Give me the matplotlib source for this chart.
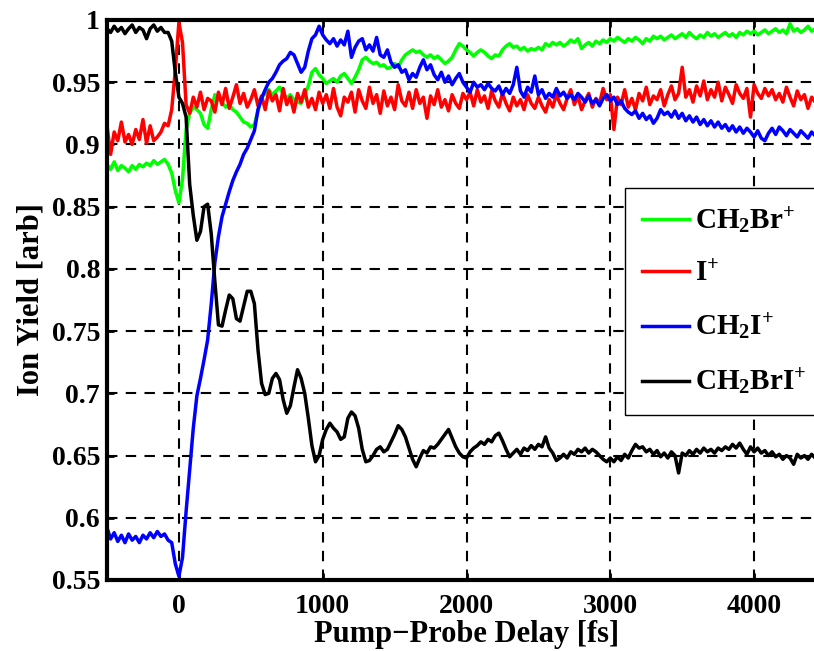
import numpy as np
import matplotlib
matplotlib.use("Agg")
import matplotlib.pyplot as plt

plt.rcParams['font.family'] = 'Liberation Serif'
plt.rcParams['font.weight'] = 'bold'
plt.rcParams['mathtext.fontset'] = 'custom'
plt.rcParams['mathtext.rm'] = 'Liberation Serif:bold'
plt.rcParams['mathtext.it'] = 'Liberation Serif:bold'
plt.rcParams['mathtext.bf'] = 'Liberation Serif:bold'

# pump-probe delay grid (fs), 25 fs steps
delay = np.arange(-500, 4501, 25)

ch2brI = [
    0.993, 0.990, 0.995, 0.991, 0.994, 0.989, 0.993, 0.996, 0.990, 0.994, 0.992, 0.985, 0.993, 0.996, 0.991, 0.994, 0.990, 0.990, 0.983, 0.958,
    0.938, 0.933, 0.922, 0.868, 0.843, 0.823, 0.830, 0.850, 0.852, 0.828, 0.790, 0.755, 0.754, 0.767, 0.779, 0.776, 0.760, 0.758, 0.770, 0.782,
    0.782, 0.772, 0.735, 0.708, 0.699, 0.700, 0.712, 0.716, 0.711, 0.695, 0.684, 0.690, 0.705, 0.719, 0.712, 0.700, 0.680, 0.658, 0.645, 0.650,
    0.663, 0.671, 0.676, 0.672, 0.669, 0.663, 0.665, 0.680, 0.685, 0.682, 0.672, 0.655, 0.645, 0.646, 0.650, 0.655, 0.657, 0.653, 0.655, 0.661,
    0.667, 0.674, 0.671, 0.665, 0.656, 0.647, 0.641, 0.648, 0.654, 0.652, 0.657, 0.656, 0.659, 0.663, 0.667, 0.671, 0.664, 0.657, 0.652, 0.649,
    0.648, 0.653, 0.656, 0.658, 0.661, 0.659, 0.663, 0.661, 0.666, 0.668, 0.662, 0.655, 0.649, 0.652, 0.655, 0.651, 0.656, 0.654, 0.658, 0.655,
    0.659, 0.657, 0.665, 0.656, 0.652, 0.646, 0.648, 0.651, 0.648, 0.653, 0.651, 0.655, 0.653, 0.656, 0.652, 0.655, 0.653, 0.650, 0.647, 0.645,
    0.648, 0.645, 0.649, 0.646, 0.651, 0.648, 0.654, 0.659, 0.656, 0.657, 0.653, 0.655, 0.651, 0.654, 0.649, 0.652, 0.648, 0.653, 0.650, 0.636,
    0.652, 0.650, 0.654, 0.651, 0.655, 0.652, 0.656, 0.653, 0.655, 0.652, 0.656, 0.654, 0.657, 0.655, 0.659, 0.656, 0.660, 0.655, 0.651, 0.657,
    0.653, 0.656, 0.652, 0.654, 0.650, 0.653, 0.649, 0.651, 0.647, 0.650, 0.648, 0.643, 0.651, 0.648, 0.650, 0.647, 0.651, 0.648, 0.652, 0.650,
    0.653]

ch2i = [
    0.592, 0.583, 0.588, 0.581, 0.586, 0.580, 0.587, 0.582, 0.585, 0.580, 0.586, 0.583, 0.588, 0.584, 0.589, 0.585, 0.587, 0.582, 0.580, 0.563,
    0.553, 0.568, 0.605, 0.638, 0.672, 0.698, 0.712, 0.727, 0.743, 0.772, 0.805, 0.826, 0.842, 0.852, 0.862, 0.871, 0.878, 0.884, 0.892, 0.897,
    0.904, 0.911, 0.928, 0.937, 0.944, 0.950, 0.953, 0.958, 0.964, 0.967, 0.969, 0.974, 0.972, 0.965, 0.958, 0.962, 0.975, 0.985, 0.988, 0.995,
    0.988, 0.984, 0.981, 0.985, 0.979, 0.984, 0.980, 0.991, 0.970, 0.978, 0.983, 0.985, 0.976, 0.980, 0.975, 0.986, 0.972, 0.970, 0.976, 0.966,
    0.962, 0.964, 0.958, 0.960, 0.952, 0.957, 0.954, 0.962, 0.968, 0.960, 0.964, 0.956, 0.952, 0.958, 0.950, 0.955, 0.948, 0.953, 0.957, 0.950,
    0.946, 0.942, 0.950, 0.946, 0.948, 0.944, 0.949, 0.945, 0.943, 0.947, 0.940, 0.945, 0.941, 0.948, 0.962, 0.943, 0.938, 0.946, 0.942, 0.955,
    0.940, 0.944, 0.937, 0.941, 0.938, 0.945, 0.939, 0.942, 0.937, 0.940, 0.936, 0.941, 0.938, 0.934, 0.939, 0.933, 0.936, 0.931, 0.937, 0.940,
    0.935, 0.938, 0.932, 0.935, 0.929, 0.926, 0.924, 0.927, 0.921, 0.925, 0.920, 0.923, 0.917, 0.921, 0.928, 0.924, 0.926, 0.922, 0.927, 0.921,
    0.925, 0.919, 0.923, 0.918, 0.922, 0.916, 0.920, 0.915, 0.919, 0.914, 0.918, 0.913, 0.916, 0.911, 0.915, 0.910, 0.914, 0.909, 0.913, 0.910,
    0.906, 0.911, 0.905, 0.903, 0.909, 0.913, 0.908, 0.914, 0.911, 0.907, 0.912, 0.909, 0.906, 0.911, 0.908, 0.905, 0.910, 0.907, 0.912, 0.909,
    0.911]

iodine = [
    0.915, 0.892, 0.910, 0.903, 0.918, 0.902, 0.908, 0.900, 0.912, 0.904, 0.920, 0.901, 0.915, 0.903, 0.906, 0.910, 0.917, 0.915, 0.928, 0.960,
    0.998, 0.982, 0.932, 0.925, 0.938, 0.930, 0.942, 0.928, 0.937, 0.935, 0.926, 0.942, 0.932, 0.945, 0.929, 0.938, 0.948, 0.933, 0.941, 0.930,
    0.936, 0.944, 0.931, 0.939, 0.928, 0.943, 0.935, 0.940, 0.927, 0.945, 0.932, 0.938, 0.926, 0.941, 0.934, 0.944, 0.930, 0.937, 0.928, 0.942,
    0.933, 0.940, 0.929, 0.945, 0.930, 0.923, 0.938, 0.934, 0.942, 0.926, 0.944, 0.935, 0.929, 0.946, 0.933, 0.940, 0.925, 0.943, 0.931, 0.938,
    0.928, 0.948, 0.935, 0.931, 0.942, 0.929, 0.944, 0.933, 0.938, 0.921, 0.939, 0.932, 0.944, 0.930, 0.936, 0.927, 0.940, 0.933, 0.929, 0.941,
    0.936, 0.942, 0.931, 0.944, 0.934, 0.939, 0.929, 0.943, 0.935, 0.930, 0.941, 0.933, 0.927, 0.938, 0.931, 0.936, 0.928, 0.940, 0.933, 0.929,
    0.938, 0.931, 0.926, 0.936, 0.930, 0.940, 0.933, 0.928, 0.937, 0.944, 0.932, 0.939, 0.928, 0.935, 0.941, 0.930, 0.937, 0.933, 0.945, 0.936,
    0.940, 0.912, 0.938, 0.932, 0.944, 0.930, 0.937, 0.928, 0.941, 0.935, 0.946, 0.932, 0.939, 0.936, 0.944, 0.931, 0.940, 0.947, 0.936, 0.941,
    0.962, 0.938, 0.944, 0.934, 0.947, 0.939, 0.951, 0.936, 0.944, 0.938, 0.950, 0.935, 0.946, 0.940, 0.933, 0.948, 0.941, 0.937, 0.945, 0.922,
    0.948, 0.941, 0.937, 0.945, 0.939, 0.944, 0.936, 0.941, 0.934, 0.946, 0.938, 0.931, 0.943, 0.936, 0.940, 0.929, 0.938, 0.934, 0.941, 0.930,
    0.936]

ch2br = [
    0.884, 0.880, 0.886, 0.879, 0.883, 0.881, 0.878, 0.883, 0.880, 0.884, 0.882, 0.885, 0.883, 0.887, 0.884, 0.886, 0.888, 0.884, 0.877, 0.863,
    0.853, 0.872, 0.912, 0.925, 0.930, 0.928, 0.925, 0.916, 0.913, 0.928, 0.940, 0.937, 0.934, 0.930, 0.932, 0.928, 0.926, 0.922, 0.918, 0.917,
    0.914, 0.916, 0.927, 0.938, 0.941, 0.944, 0.940, 0.943, 0.946, 0.941, 0.937, 0.940, 0.936, 0.934, 0.933, 0.940, 0.947, 0.958, 0.961, 0.956,
    0.953, 0.949, 0.951, 0.953, 0.950, 0.955, 0.957, 0.953, 0.949, 0.954, 0.960, 0.968, 0.970, 0.967, 0.965, 0.966, 0.963, 0.964, 0.961, 0.962,
    0.965, 0.962, 0.968, 0.972, 0.974, 0.976, 0.974, 0.975, 0.972, 0.970, 0.972, 0.969, 0.971, 0.968, 0.965, 0.967, 0.970, 0.976, 0.981, 0.979,
    0.976, 0.974, 0.971, 0.974, 0.976, 0.974, 0.971, 0.969, 0.972, 0.971, 0.976, 0.979, 0.981, 0.978, 0.979, 0.976, 0.978, 0.975, 0.977, 0.976,
    0.978, 0.976, 0.981, 0.979, 0.982, 0.980, 0.982, 0.979, 0.981, 0.984, 0.982, 0.985, 0.977, 0.980, 0.982, 0.979, 0.983, 0.981, 0.984, 0.982,
    0.985, 0.983, 0.986, 0.984, 0.982, 0.985, 0.983, 0.986, 0.984, 0.981, 0.985, 0.983, 0.987, 0.985, 0.987, 0.984, 0.986, 0.988, 0.985, 0.987,
    0.989, 0.986, 0.990, 0.987, 0.985, 0.988, 0.986, 0.990, 0.987, 0.989, 0.986, 0.988, 0.990, 0.987, 0.989, 0.986, 0.990, 0.988, 0.991, 0.989,
    0.991, 0.988, 0.990, 0.992, 0.989, 0.991, 0.993, 0.990, 0.992, 0.989, 0.997, 0.991, 0.993, 0.990, 0.992, 0.995, 0.991, 0.993, 0.992, 0.994,
    0.993]

series = [
    (ch2br, '#00ff00', r'CH$_{\mathrm{2}}$Br$^{+}$'),
    (iodine, '#ff0000', r'I$^{+}$'),
    (ch2i, '#0000ff', r'CH$_{\mathrm{2}}$I$^{+}$'),
    (ch2brI, '#000000', r'CH$_{\mathrm{2}}$BrI$^{+}$'),
]

xticks = [0, 1000, 2000, 3000, 4000]
yticks = [0.55, 0.6, 0.65, 0.7, 0.75, 0.8, 0.85, 0.9, 0.95, 1]
ytick_labels = ['0.55', '0.6', '0.65', '0.7', '0.75', '0.8', '0.85', '0.9', '0.95', '1']

fig = plt.figure(figsize=(8.14, 6.51), dpi=100)
ax = fig.add_axes([107/814, 71/651, 719/814, 560/651])

for vals, col, lab in series:
    ax.plot(delay, vals, color=col, lw=2.5, label=lab)

ax.set_xlim(-500, 4500)
ax.set_ylim(0.55, 1.0)
ax.set_xticks(xticks)
ax.set_xticklabels([str(v) for v in xticks])
ax.set_yticks(yticks)
ax.set_yticklabels(ytick_labels)
ax.grid(True, color='black', linestyle=(0, (5, 4)), lw=1.5)
ax.set_axisbelow(True)
ax.tick_params(direction='in', length=5, width=2, labelsize=20, top=True, right=True)
ax.tick_params(axis='y', pad=5)
ax.tick_params(axis='x', pad=10)
for sp in ax.spines.values():
    sp.set_linewidth(3)

ax.set_xlabel('Pump\u2212Probe Delay [fs]', fontsize=22, fontweight='bold', labelpad=1)
ax.set_ylabel('Ion Yield [arb]', fontsize=22, fontweight='bold', labelpad=4)

leg = ax.legend(loc='upper right', bbox_to_anchor=(0.997, 0.70), fontsize=21, frameon=True,
                fancybox=False, edgecolor='black', framealpha=1, handlelength=1.6,
                handletextpad=0.2, labelspacing=0.85, borderpad=0.6, borderaxespad=0)
leg.get_frame().set_linewidth(1.0)

fig.savefig('out.png', dpi=100)
